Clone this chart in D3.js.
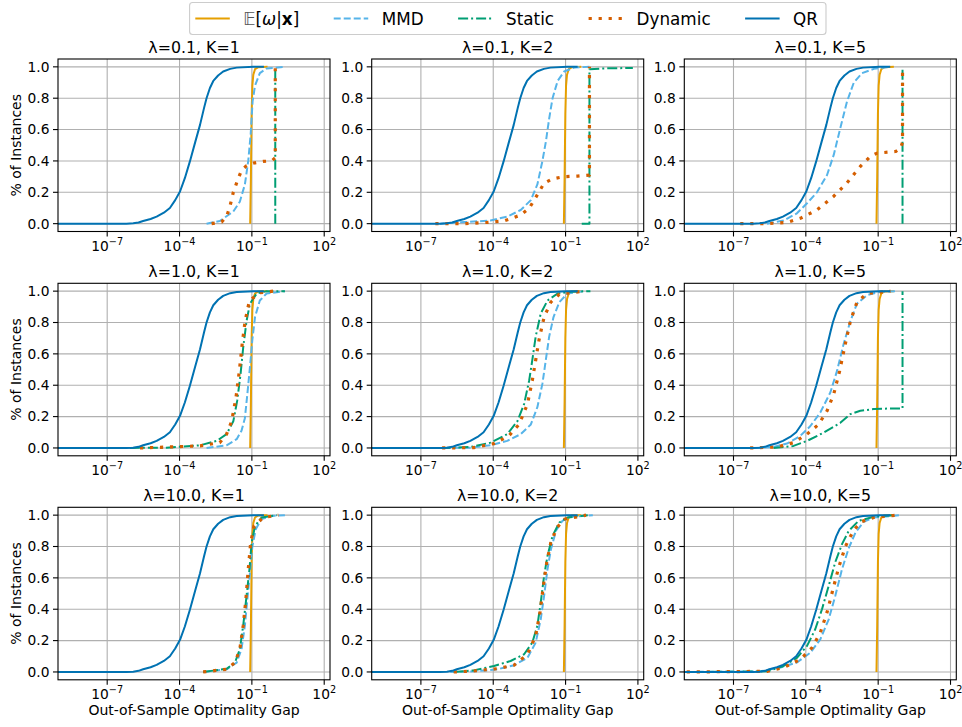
<!DOCTYPE html>
<html>
<head>
<meta charset="utf-8">
<script src="https://cdn.jsdelivr.net/npm/d3@7"></script>
<style>
  body { margin: 0; background: #fff; }
  text { font-family: "DejaVu Sans", sans-serif; fill: #000; }
</style>
</head>
<body>
<div id="chart"></div>
<script>
// panel grid
var lambdas = ["0.1", "1.0", "10.0"];
var ks = [1, 2, 5];
var methods = ["E", "MMD", "Static", "Dynamic", "QR"];
var xTickExp = [-7, -4, -1, 2];
var yTicks = [0, 0.2, 0.4, 0.6, 0.8, 1.0];

// every curve is a list of [log10(gap), fraction of instances]
// QR and E[w|x] look the same in all nine panels
var qrCurve = [[-9.2, 0], [-6.2, 0], [-5.92, 0.002], [-5.7, 0.007], [-5.51, 0.017], [-5.2, 0.03], [-4.95, 0.045], [-4.65, 0.07], [-4.40, 0.10],
  [-4.18, 0.15], [-3.98, 0.205], [-3.78, 0.29], [-3.57, 0.397], [-3.35, 0.52], [-3.15, 0.63], [-2.98, 0.74], [-2.88, 0.80], [-2.74, 0.865], [-2.60, 0.91], [-2.4, 0.945], [-2.19, 0.97],
  [-1.9, 0.987], [-1.63, 0.995], [-0.94, 1.0], [-0.5, 1.0]];

var expCurve = [[-1.07, 0], [-1.04, 0.3], [-1.01, 0.7], [-0.98, 0.88], [-0.94, 0.95],
  [-0.87, 0.985], [-0.75, 0.997], [-0.35, 1.0]];

// row-major: (0.1,1) (0.1,2) (0.1,5) (1,1) ... (10,5)
var mmdCurves = [
  [[-2.88, 0], [-2.33, 0.017], [-1.77, 0.077], [-1.50, 0.14], [-1.29, 0.25], [-1.15, 0.40], [-1.05, 0.57], [-0.97, 0.78], [-0.87, 0.88], [-0.67, 0.96], [-0.39, 0.99], [0.37, 1.0]],
  [[-6.2, 0], [-5.22, 0.01], [-4.11, 0.02], [-3.42, 0.045], [-2.86, 0.087], [-2.44, 0.15], [-2.17, 0.25], [-1.96, 0.40], [-1.82, 0.52], [-1.68, 0.67], [-1.54, 0.80], [-1.33, 0.91], [-1.06, 0.97], [-0.64, 0.996], [-0.01, 1.0]],
  [[-5.61, 0], [-4.92, 0.02], [-4.37, 0.066], [-3.95, 0.13], [-3.54, 0.20], [-3.12, 0.31], [-2.84, 0.44], [-2.57, 0.61], [-2.29, 0.78], [-2.01, 0.90], [-1.67, 0.96], [-1.18, 0.987], [-0.49, 1.0]],
  [[-2.88, 0], [-2.05, 0.017], [-1.63, 0.056], [-1.43, 0.11], [-1.29, 0.19], [-1.19, 0.34], [-1.08, 0.515], [-0.98, 0.69], [-0.87, 0.835], [-0.67, 0.94], [-0.39, 0.985], [0.37, 1.0]],
  [[-6.06, 0], [-4.94, 0.002], [-4.11, 0.017], [-3.42, 0.045], [-2.86, 0.088], [-2.44, 0.15], [-2.17, 0.26], [-1.96, 0.41], [-1.82, 0.56], [-1.68, 0.71], [-1.50, 0.835], [-1.26, 0.93], [-0.92, 0.985], [-0.22, 1.0]],
  [[-6.17, 0], [-5.34, 0.006], [-4.78, 0.028], [-4.23, 0.077], [-3.81, 0.14], [-3.40, 0.226], [-2.98, 0.355], [-2.71, 0.49], [-2.43, 0.665], [-2.15, 0.81], [-1.88, 0.92], [-1.46, 0.975], [-0.91, 0.996], [-0.28, 1.0]],
  [[-3.02, 0], [-2.05, 0.017], [-1.63, 0.06], [-1.43, 0.145], [-1.29, 0.295], [-1.19, 0.46], [-1.08, 0.63], [-0.98, 0.80], [-0.84, 0.91], [-0.60, 0.975], [-0.11, 0.996], [0.37, 1.0]],
  [[-5.78, 0], [-4.81, 0.004], [-3.83, 0.017], [-3.14, 0.043], [-2.58, 0.09], [-2.24, 0.187], [-2.03, 0.336], [-1.89, 0.485], [-1.75, 0.655], [-1.61, 0.78], [-1.40, 0.90], [-1.13, 0.964], [-0.78, 0.99], [0.13, 1.0]],
  [[-8.94, 0], [-5.89, 0.004], [-5.06, 0.028], [-4.37, 0.06], [-3.81, 0.123], [-3.40, 0.208], [-3.05, 0.336], [-2.78, 0.485], [-2.50, 0.655], [-2.22, 0.79], [-1.94, 0.89], [-1.60, 0.957], [-1.18, 0.985], [-0.07, 1.0]]
];

var staticCurves = [
  [[-0.03, 0], [-0.03, 1.0]],
  [[-0.33, 0], [-0.01, 0], [-0.01, 0.985], [0.6, 0.99], [1.79, 0.993]],
  [[0.01, 0], [0.01, 1.0]],
  [[-6.06, 0], [-4.54, 0.002], [-3.15, 0.017], [-2.46, 0.045], [-2.05, 0.088], [-1.77, 0.17], [-1.61, 0.30], [-1.47, 0.47], [-1.36, 0.64], [-1.22, 0.81], [-1.08, 0.92], [-0.80, 0.985], [-0.39, 1.0], [0.37, 1.0]],
  [[-6.19, 0], [-4.94, 0.006], [-4.11, 0.034], [-3.42, 0.088], [-3.0, 0.17], [-2.72, 0.28], [-2.51, 0.43], [-2.38, 0.56], [-2.24, 0.71], [-2.03, 0.857], [-1.75, 0.94], [-1.33, 0.985], [-0.78, 0.996], [0.03, 1.0]],
  [[-5.34, 0], [-4.51, 0.013], [-3.95, 0.045], [-3.26, 0.098], [-2.57, 0.16], [-2.15, 0.216], [-1.74, 0.237], [-1.18, 0.248], [-0.49, 0.252], [0.01, 0.252], [0.01, 1.0]],
  [[-3.02, 0], [-2.05, 0.02], [-1.70, 0.06], [-1.50, 0.145], [-1.36, 0.295], [-1.22, 0.485], [-1.10, 0.655], [-1.01, 0.825], [-0.87, 0.93], [-0.60, 0.985], [0.03, 1.0]],
  [[-5.64, 0], [-4.81, 0.01], [-3.97, 0.038], [-3.28, 0.07], [-2.72, 0.113], [-2.38, 0.187], [-2.17, 0.294], [-2.03, 0.443], [-1.89, 0.613], [-1.75, 0.74], [-1.54, 0.868], [-1.26, 0.953], [-0.92, 0.985], [-0.08, 1.0]],
  [[-8.11, 0], [-5.61, 0.004], [-4.92, 0.038], [-4.37, 0.09], [-3.95, 0.166], [-3.61, 0.272], [-3.33, 0.40], [-3.05, 0.55], [-2.78, 0.70], [-2.50, 0.815], [-2.22, 0.90], [-1.81, 0.964], [-1.18, 0.99], [-0.35, 1.0]]
];

var dynamicCurves = [
  [[-2.67, 0], [-2.26, 0.01], [-2.05, 0.045], [-1.91, 0.11], [-1.77, 0.20], [-1.61, 0.27], [-1.43, 0.34], [-1.22, 0.37], [-0.94, 0.386], [-0.53, 0.397], [-0.18, 0.40], [-0.03, 0.42], [-0.03, 1.0]],
  [[-6.4, 0], [-5.2, 0], [-4.25, 0.008], [-3.56, 0.017], [-2.86, 0.055], [-2.51, 0.098], [-2.24, 0.166], [-1.89, 0.258], [-1.54, 0.286], [-1.06, 0.30], [-0.5, 0.303], [-0.01, 0.31], [-0.01, 1.0]],
  [[-6.72, 0], [-5.61, 0], [-4.78, 0.008], [-4.23, 0.034], [-3.54, 0.087], [-2.84, 0.175], [-2.29, 0.26], [-1.74, 0.365], [-1.32, 0.43], [-1.04, 0.45], [-0.28, 0.46], [-0.07, 0.48], [0.01, 0.52], [0.01, 1.0]],
  [[-5.64, 0], [-3.15, 0.013], [-2.33, 0.034], [-2.05, 0.088], [-1.84, 0.17], [-1.66, 0.32], [-1.52, 0.49], [-1.40, 0.665], [-1.28, 0.81], [-1.10, 0.94], [-0.67, 0.99], [-0.11, 1.0]],
  [[-6.12, 0], [-4.81, 0.002], [-3.97, 0.028], [-3.35, 0.077], [-2.93, 0.15], [-2.58, 0.28], [-2.38, 0.43], [-2.24, 0.56], [-2.10, 0.69], [-1.89, 0.835], [-1.61, 0.93], [-1.26, 0.98], [-0.22, 1.0]],
  [[-6.31, 0], [-5.2, 0.006], [-4.51, 0.034], [-3.95, 0.088], [-3.47, 0.15], [-3.12, 0.237], [-2.84, 0.345], [-2.60, 0.49], [-2.36, 0.665], [-2.15, 0.81], [-1.88, 0.93], [-1.46, 0.985], [-0.49, 1.0]],
  [[-3.02, 0], [-2.05, 0.017], [-1.70, 0.06], [-1.50, 0.145], [-1.36, 0.295], [-1.25, 0.46], [-1.15, 0.655], [-1.05, 0.825], [-0.91, 0.93], [-0.53, 0.985], [0.10, 1.0]],
  [[-5.64, 0], [-4.81, 0.006], [-3.83, 0.021], [-3.14, 0.043], [-2.58, 0.113], [-2.24, 0.23], [-2.06, 0.38], [-1.92, 0.55], [-1.78, 0.70], [-1.61, 0.826], [-1.36, 0.92], [-1.06, 0.974], [-0.15, 1.0]],
  [[-8.94, 0], [-5.61, 0.004], [-4.92, 0.028], [-4.23, 0.08], [-3.74, 0.155], [-3.40, 0.25], [-3.12, 0.38], [-2.87, 0.53], [-2.64, 0.665], [-2.36, 0.80], [-2.01, 0.906], [-1.67, 0.96], [-1.18, 0.985], [-0.21, 1.0]]
];

// line styles, in legend/draw order
var styles = {
  E:       { color: "#E69F00", width: 2,   dash: null },
  MMD:     { color: "#56B4E9", width: 2,   dash: "7,3" },
  Static:  { color: "#009E73", width: 2,   dash: "10,3,2,3" },
  Dynamic: { color: "#D55E00", width: 3.2, dash: "3.2,6.8" },
  QR:      { color: "#0072B2", width: 2,   dash: null }
};

function curvesFor(i) {
  return { E: expCurve, MMD: mmdCurves[i], Static: staticCurves[i], Dynamic: dynamicCurves[i], QR: qrCurve };
}

var svgWidth = 962, svgHeight = 727;
var colLeft = [58, 371.7, 684.3];
var rowTop = [59, 283.3, 507.3];
var pw = 272, ph = 172.5;

var svg = d3.select("#chart").append("svg")
  .attr("width", svgWidth)
  .attr("height", svgHeight);

var xScale = d3.scaleLog().domain([Math.pow(10, -9.04), Math.pow(10, 2.24)]).range([0, pw]);
var yScale = d3.scaleLinear().domain([-0.05, 1.05]).range([ph, 0]);

var line = d3.line()
  .x(d => xScale(Math.pow(10, d[0])))
  .y(d => yScale(d[1]));

lambdas.forEach(function(lam, r) {
  ks.forEach(function(k, c) {
    var idx = r * 3 + c;
    var g = svg.append("g").attr("transform", `translate(${colLeft[c]}, ${rowTop[r]})`);

    g.append("clipPath").attr("id", "clip" + idx)
      .append("rect").attr("width", pw).attr("height", ph);

    // grid
    g.selectAll(".gx").data(xTickExp).enter().append("line")
      .attr("x1", d => xScale(Math.pow(10, d))).attr("x2", d => xScale(Math.pow(10, d)))
      .attr("y1", 0).attr("y2", ph)
      .attr("stroke", "#b0b0b0").attr("stroke-width", 1.1);
    g.selectAll(".gy").data(yTicks).enter().append("line")
      .attr("x1", 0).attr("x2", pw)
      .attr("y1", d => yScale(d)).attr("y2", d => yScale(d))
      .attr("stroke", "#b0b0b0").attr("stroke-width", 1.1);

    // curves
    var cs = curvesFor(idx);
    var plot = g.append("g").attr("clip-path", `url(#clip${idx})`);
    methods.forEach(function(m) {
      var s = styles[m];
      plot.append("path")
        .datum(cs[m])
        .attr("d", line)
        .attr("fill", "none")
        .attr("stroke", s.color)
        .attr("stroke-width", s.width)
        .attr("stroke-dasharray", s.dash)
        .attr("stroke-linejoin", "round");
    });

    // spines
    g.append("rect").attr("width", pw).attr("height", ph)
      .attr("fill", "none").attr("stroke", "#000").attr("stroke-width", 1.1);

    // y ticks
    var yt = g.selectAll(".yt").data(yTicks).enter().append("g")
      .attr("transform", d => `translate(0, ${yScale(d)})`);
    yt.append("line").attr("x1", -5).attr("x2", 0).attr("stroke", "#000").attr("stroke-width", 1.1);
    yt.append("text").attr("x", -8.5).attr("dy", "0.35em")
      .attr("text-anchor", "end").style("font-size", "13.8px")
      .text(d => d.toFixed(1));

    // x ticks, 10^n labels
    var xt = g.selectAll(".xt").data(xTickExp).enter().append("g")
      .attr("transform", d => `translate(${xScale(Math.pow(10, d))}, ${ph})`);
    xt.append("line").attr("y1", 0).attr("y2", 5).attr("stroke", "#000").attr("stroke-width", 1.1);
    var lab = xt.append("text").attr("y", 19.7).attr("text-anchor", "middle").style("font-size", "13.8px");
    lab.append("tspan").text("10");
    lab.append("tspan").attr("dy", -6).style("font-size", "9.7px")
      .text(d => (d < 0 ? "\u2212" + (-d) : "" + d));

    // title
    g.append("text").attr("x", pw / 2).attr("y", -6)
      .attr("text-anchor", "middle").style("font-size", "15.8px")
      .text(`λ=${lam}, K=${k}`);

    if (c === 0) {
      svg.append("text")
        .attr("transform", `translate(20.5, ${rowTop[r] + ph / 2}) rotate(-90)`)
        .attr("text-anchor", "middle").style("font-size", "14px")
        .text("% of Instances");
    }
    if (r === 2) {
      svg.append("text")
        .attr("x", colLeft[c] + pw / 2).attr("y", 715)
        .attr("text-anchor", "middle").style("font-size", "14px")
        .text("Out-of-Sample Optimality Gap");
    }
  });
});

// legend across the top
var legend = svg.append("g");
var box = legend.append("rect");
var lx = 195.3, ly = 18.5;
methods.forEach(function(m) {
  var s = styles[m];
  legend.append("line")
    .attr("x1", lx).attr("x2", lx + 34.5).attr("y1", ly).attr("y2", ly)
    .attr("stroke", s.color).attr("stroke-width", s.width)
    .attr("stroke-dasharray", s.dash);
  var t = legend.append("text").attr("x", lx + 48).attr("y", ly).attr("dy", "0.36em")
    .style("font-size", "16.8px");
  if (m === "E") {
    t.append("tspan").attr("fill", "#555").text("\uD835\uDD3C");
    t.append("tspan").text("[");
    t.append("tspan").style("font-style", "italic").text("ω");
    t.append("tspan").text("|");
    t.append("tspan").style("font-weight", "bold").text("x");
    t.append("tspan").text("]");
  } else {
    t.text(m);
  }
  lx = lx + 48 + t.node().getComputedTextLength() + 34.5;
});
box.attr("x", 189.6).attr("y", 2.5)
  .attr("width", lx - 34.5 - 189.6 + 8).attr("height", 32)
  .attr("rx", 3)
  .attr("fill", "#fff").attr("fill-opacity", 0.8)
  .attr("stroke", "#cccccc").attr("stroke-width", 1.1);
</script>
</body>
</html>
